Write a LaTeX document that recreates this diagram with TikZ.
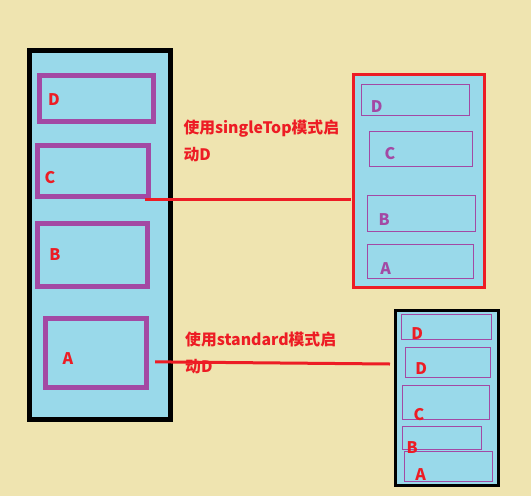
\documentclass[tikz,border=0pt]{standalone}
\usepackage{fontspec}
\newfontfamily\cjk{Noto Sans CJK SC}
\usepackage{tikz}
\usetikzlibrary{calc,positioning}
\definecolor{paper}{HTML}{EFE4B0}
\definecolor{boxblue}{HTML}{99D9EA}
\definecolor{actpurple}{HTML}{A349A4}
\definecolor{mkred}{HTML}{ED1C24}
\tikzset{
  stack/.style={draw=black, line width=5pt, fill=boxblue, inner sep=0pt, outer sep=0pt},
  act/.style={draw=actpurple, line width=5pt, inner sep=0pt, outer sep=0pt},
  thinact/.style={draw=actpurple, line width=1pt, inner sep=0pt, outer sep=0pt},
  lbl/.style={font=\cjk\fontsize{16}{16}\selectfont\bfseries, text=mkred, inner sep=0pt},
  plbl/.style={lbl, text=actpurple},
  note/.style={font=\cjk\fontsize{15.8}{27}\selectfont\bfseries, text=mkred, inner sep=0pt,
               align=left, anchor=base west},
  redline/.style={draw=mkred, line width=3pt}
}
\begin{document}
\begin{tikzpicture}[x=1pt,y=-1pt]
  \fill[paper] (0,0) rectangle (531,496);
  % task stack before
  \node[stack, minimum width=141, minimum height=369] (left) at (100,235) {};
  \node[act, minimum width=113.7, minimum height=45.7] (lD) at (96.35,98.35) {};
  \node[act, minimum width=110.7, minimum height=50.7] (lC) at (92.85,170.85) {};
  \node[act, minimum width=110, minimum height=62.7] (lB) at (92.5,254.85) {};
  \node[act, minimum width=100.7, minimum height=68.7] (lA) at (95.85,352.85) {};
  \node[lbl] at (54,100) {D};
  \node[lbl] at (50,178) {C};
  \node[lbl] at (55,255) {B};
  \node[lbl] at (68,359) {A};
  % singleTop
  \node[stack, draw=mkred, line width=3pt, minimum width=131, minimum height=213] (sgl) at (419,181) {};
  \node[thinact, minimum width=108.4, minimum height=31] (rD) at (415.5,99.8) {};
  \node[thinact, minimum width=103.4, minimum height=35] (rC) at (421,148.8) {};
  \node[thinact, minimum width=108.4, minimum height=36] (rB) at (421.5,213.3) {};
  \node[thinact, minimum width=106.4, minimum height=34] (rA) at (420.5,261.3) {};
  \node[plbl] at (376.7,106.7) {D};
  \node[plbl] at (390,153.3) {C};
  \node[plbl] at (384.3,219.3) {B};
  \node[plbl] at (385.7,268.3) {A};
  % standard
  \node[stack, line width=3pt, minimum width=103, minimum height=174.5] (std) at (447,397.75) {};
  \node[thinact, minimum width=90.4, minimum height=25] (sD1) at (446.5,326.8) {};
  \node[thinact, minimum width=85.4, minimum height=30] (sD2) at (448,362.3) {};
  \node[thinact, minimum width=87.4, minimum height=34] (sC) at (446,402.3) {};
  \node[thinact, minimum width=79.4, minimum height=23] (sB) at (442,437.8) {};
  \node[thinact, minimum width=88.4, minimum height=30.4] (sA) at (448.5,466.5) {};
  \node[lbl] at (417.3,333.3) {D};
  \node[lbl] at (421.3,368.3) {D};
  \node[lbl] at (419,414.3) {C};
  \node[lbl] at (412.3,447.7) {B};
  \node[lbl] at (420.7,475) {A};
  % notes and links
  \node[note] (n1) at (183.3,160.5) {使用singleTop模式启\\动D};
  \node[note] (n2) at (185,372) {使用standard模式启\\动D};
  \draw[redline] ([shift={(-3,3)}]lC.south east) -- ([shift={(-3,3)}]lC.south east -| sgl.west);
  \draw[redline] ([shift={(9,9)}]lA.east) -- ([shift={(-5.5,-33.75)}]std.west);
\end{tikzpicture}
\end{document}
